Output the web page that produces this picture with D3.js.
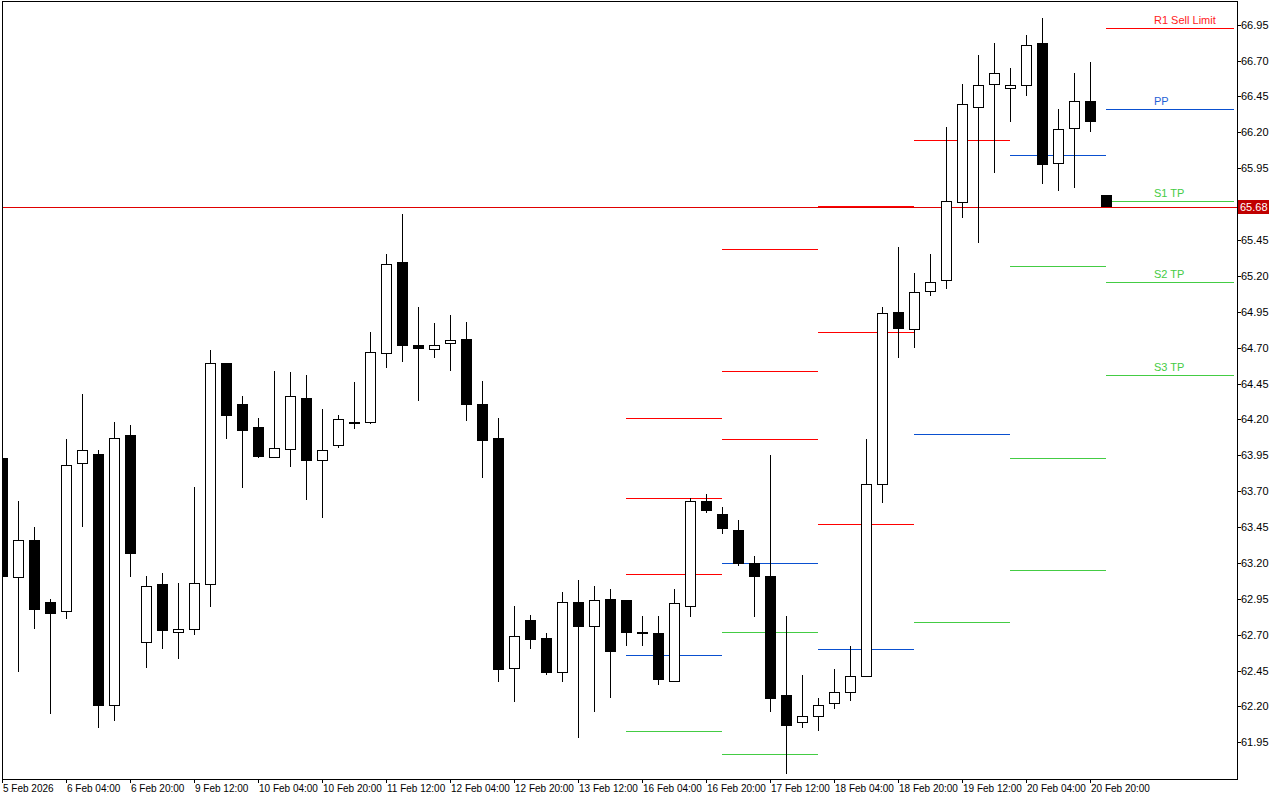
<!DOCTYPE html>
<html>
<head>
<meta charset="utf-8">
<script src="https://cdn.jsdelivr.net/npm/d3@7"></script>
<style>
  body { margin: 0; background: #fff; }
  svg { display: block; font-family: 'Liberation Sans', Arial, sans-serif; }
  line { shape-rendering: crispEdges; }
</style>
</head>
<body>
<div id="chart"></div>
<script>
// 4-hour bars
const opens = [63.93, 63.10, 63.36, 62.93, 62.86, 63.90, 63.96, 62.21, 64.09, 62.65,
  63.05, 62.72, 62.74, 63.05, 64.59, 64.31, 64.15, 63.94, 63.99, 64.35,
  63.92, 64.02, 64.18, 64.18, 64.66, 65.30, 64.72, 64.69, 64.73, 64.76,
  64.31, 64.07, 62.47, 62.80, 62.68, 62.44, 62.93, 62.76, 62.95, 62.94,
  62.72, 62.71, 62.38, 62.90, 63.63, 63.54, 63.43, 63.20, 63.11, 62.28,
  62.09, 62.13, 62.22, 62.30, 62.41, 63.75, 64.95, 64.83, 65.10, 65.17,
  65.72, 66.38, 66.53, 66.51, 66.53, 66.82, 65.98, 66.23, 66.42, 65.76]
const highs = [63.93, 63.63, 63.45, 62.95, 64.06, 64.38, 63.99, 64.18, 64.16, 63.11,
  63.13, 63.06, 63.73, 64.68, 64.59, 64.36, 64.21, 64.54, 64.53, 64.51,
  64.27, 64.23, 64.46, 64.81, 65.35, 65.63, 64.98, 64.87, 64.93, 64.88,
  64.47, 64.21, 62.90, 62.84, 62.71, 63.00, 63.08, 63.04, 63.02, 62.94,
  62.83, 62.83, 63.02, 63.65, 63.68, 63.59, 63.50, 63.25, 63.95, 62.83,
  62.42, 62.26, 62.46, 62.62, 64.06, 64.98, 65.40, 65.22, 65.35, 66.24,
  66.54, 66.74, 66.82, 66.65, 66.88, 67.00, 66.36, 66.61, 66.69, 65.76]
const lows = [63.11, 62.44, 62.74, 62.15, 62.81, 63.45, 62.05, 62.10, 63.10, 62.47,
  62.60, 62.53, 62.70, 62.89, 64.06, 63.72, 63.93, 63.93, 63.87, 63.64,
  63.51, 64.00, 64.13, 64.17, 64.56, 64.60, 64.33, 64.63, 64.54, 64.19,
  63.79, 62.37, 62.23, 62.60, 62.42, 62.37, 61.98, 62.16, 62.26, 62.62,
  62.62, 62.35, 62.37, 62.82, 63.55, 63.40, 63.18, 62.82, 62.16, 61.73,
  62.05, 62.03, 62.18, 62.24, 62.41, 63.62, 64.63, 64.70, 65.06, 65.11,
  65.60, 65.43, 65.92, 66.27, 66.45, 65.84, 65.79, 65.81, 66.20, 65.68]
const closes = [63.11, 63.36, 62.88, 62.85, 63.88, 63.99, 62.21, 64.07, 63.27, 63.04,
  62.73, 62.74, 63.06, 64.59, 64.23, 64.13, 63.95, 64.00, 64.36, 63.92,
  63.99, 64.20, 64.18, 64.67, 65.28, 64.72, 64.70, 64.72, 64.75, 64.31,
  64.06, 62.46, 62.69, 62.67, 62.44, 62.93, 62.76, 62.94, 62.59, 62.72,
  62.72, 62.39, 62.92, 63.63, 63.57, 63.44, 63.20, 63.11, 62.26, 62.07,
  62.13, 62.21, 62.30, 62.41, 63.75, 64.94, 64.84, 65.09, 65.16, 65.72,
  66.40, 66.53, 66.61, 66.53, 66.81, 65.98, 66.22, 66.42, 66.28, 65.68]

const timeLabels = ['5 Feb 2026', '6 Feb 04:00', '6 Feb 20:00', '9 Feb 12:00', '10 Feb 04:00',
  '10 Feb 20:00', '11 Feb 12:00', '12 Feb 04:00', '12 Feb 20:00', '13 Feb 12:00',
  '16 Feb 04:00', '16 Feb 20:00', '17 Feb 12:00', '18 Feb 04:00', '18 Feb 20:00',
  '19 Feb 12:00', '20 Feb 04:00', '20 Feb 20:00']
// 65.70 is hidden behind the last-price box in the picture
const priceTicks = [66.95, 66.70, 66.45, 66.20, 65.95, 65.45, 65.20, 64.95,
  64.70, 64.45, 64.20, 63.95, 63.70, 63.45, 63.20, 62.95, 62.70, 62.45, 62.20, 61.95]
const lastPrice = 65.68

// daily pivot levels, each drawn over 6 bars
const dayStart = [39, 45, 51, 57, 63, 69]
const resLevels = [[64.21, 63.65, 63.12], [65.39, 64.54, 64.06], [65.69, 64.81, 63.47], [66.15], [], [66.93]]
const ppLevels = [62.56, 63.20, 62.60, 64.10, 66.04, 66.36]
const supLevels = [[62.03], [62.72, 61.87], [], [62.79], [65.27, 63.93, 63.15], [65.72, 65.16, 64.51]]
const lastLabels = [['R1 Sell Limit', 66.93, '#ff1a1a'], ['PP', 66.36, '#1f5fd6'],
  ['S1 TP', 65.72, '#44cc44'], ['S2 TP', 65.16, '#44cc44'], ['S3 TP', 64.51, '#44cc44']]

const W = 1280, H = 800
const pLeft = 3, pRight = 1237, pTop = 2, pBottom = 779
const RED = '#ff0000', BLUE = '#0a50d0', GREEN = '#44cc44'

const svg = d3.select('#chart').append('svg').attr('width', W).attr('height', H)

const x = d3.scaleLinear().domain([0, 1]).range([2, 18])
const y = d3.scaleLinear().domain([61.95, 66.95]).range([742.3, 24.7])

svg.append('defs').append('clipPath').attr('id', 'plot')
  .append('rect').attr('x', pLeft).attr('y', pTop).attr('width', pRight - pLeft).attr('height', pBottom - pTop)

const plot = svg.append('g').attr('clip-path', 'url(#plot)')

// pivot segments
const segs = []
dayStart.forEach((s, d) => {
  const e = d === dayStart.length - 1 ? s + 8 : s + 6
  resLevels[d].forEach((v) => segs.push({ s, e, v, c: RED }))
  segs.push({ s, e, v: ppLevels[d], c: BLUE })
  supLevels[d].forEach((v) => segs.push({ s, e, v, c: GREEN }))
})
plot.selectAll('.lvl').data(segs).enter().append('line')
  .attr('x1', (d) => x(d.s)).attr('x2', (d) => d.e === 77 ? 1234 : x(d.e))
  .attr('y1', (d) => Math.round(y(d.v)) + 0.5).attr('y2', (d) => Math.round(y(d.v)) + 0.5)
  .attr('stroke', (d) => d.c).attr('stroke-width', 1)

// last price line
plot.append('line').attr('x1', pLeft).attr('x2', pRight)
  .attr('y1', Math.round(y(lastPrice)) + 0.5).attr('y2', Math.round(y(lastPrice)) + 0.5)
  .attr('stroke', '#e00000')

// candles
const bars = opens.map((o, i) => ({ i, o, h: highs[i], l: lows[i], c: closes[i] }))
const cg = plot.selectAll('.candle').data(bars).enter().append('g')
cg.append('line')
  .attr('x1', (d) => x(d.i) + 0.5).attr('x2', (d) => x(d.i) + 0.5)
  .attr('y1', (d) => y(d.h)).attr('y2', (d) => y(d.l))
  .attr('stroke', '#000').attr('stroke-width', 1)
cg.append('rect')
  .attr('x', (d) => x(d.i) - 4.5)
  .attr('y', (d) => Math.round(y(Math.max(d.o, d.c))) + 0.5)
  .attr('width', 10)
  .attr('height', (d) => Math.max(1, Math.round(y(Math.min(d.o, d.c)) - y(Math.max(d.o, d.c)))))
  .attr('fill', (d) => d.c < d.o ? '#000' : '#fff')
  .attr('stroke', '#000').attr('stroke-width', 1)

// level labels on the last day
svg.selectAll('.lbl').data(lastLabels).enter().append('text')
  .attr('x', 1154).attr('y', (d) => y(d[1]) - 4)
  .attr('fill', (d) => d[2]).attr('font-size', 11).text((d) => d[0])

// frame
svg.append('rect').attr('x', pLeft - 0.5).attr('y', pTop - 0.5)
  .attr('width', pRight - pLeft + 1).attr('height', pBottom - pTop + 1)
  .attr('fill', 'none').attr('stroke', '#000')

// price axis
const ya = svg.append('g')
ya.selectAll('line').data(priceTicks).enter().append('line')
  .attr('x1', pRight).attr('x2', pRight + 4)
  .attr('y1', (d) => Math.round(y(d)) + 0.5).attr('y2', (d) => Math.round(y(d)) + 0.5)
  .attr('stroke', '#000')
ya.selectAll('text').data(priceTicks).enter().append('text')
  .attr('x', pRight + 4).attr('y', (d) => y(d) + 4)
  .attr('font-size', 11).attr('fill', '#000').text((d) => d3.format('.2f')(d))

const ly = Math.round(y(lastPrice))
svg.append('rect').attr('x', pRight + 1).attr('y', ly - 7).attr('width', 31).attr('height', 14).attr('fill', '#c00000')
svg.append('text').attr('x', pRight + 3).attr('y', ly + 4).attr('font-size', 11)
  .attr('fill', '#fff').text(d3.format('.2f')(lastPrice))

// time axis
const xa = svg.append('g')
xa.selectAll('line').data(timeLabels).enter().append('line')
  .attr('x1', (d, k) => x(k * 4) + 0.5).attr('x2', (d, k) => x(k * 4) + 0.5)
  .attr('y1', pBottom).attr('y2', pBottom + 4).attr('stroke', '#000')
xa.selectAll('text').data(timeLabels).enter().append('text')
  .attr('x', (d, k) => x(k * 4) + 1).attr('y', 792)
  .attr('font-size', 10).attr('fill', '#000').text((d) => d)
</script>
</body>
</html>
